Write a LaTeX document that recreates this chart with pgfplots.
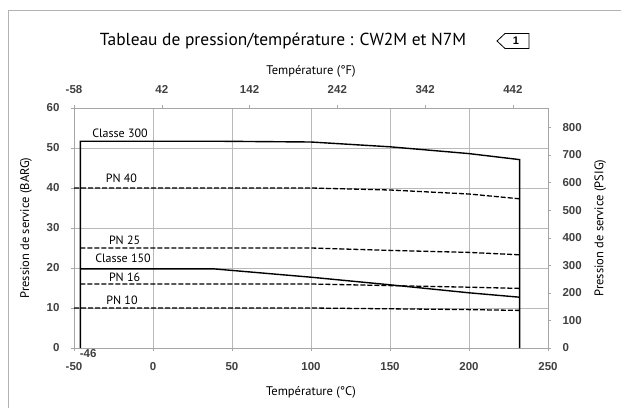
\documentclass[border=0pt]{standalone}
\usepackage{pgfplots}
\pgfplotsset{compat=1.18}
\usepackage{fontspec}
\setmainfont{PT Sans}
\newfontfamily\tickfont{Liberation Sans}
\begin{document}
\begin{tikzpicture}
\useasboundingbox (0pt,0pt) rectangle (621pt,408pt);
\draw[gray!60, line width=0.8pt] (8pt,0pt) -- (8pt,398pt) -- (621pt,398pt);
\node[font=\fontsize{17.4}{20}\selectfont] at (283pt,367pt) {Tableau de pression/température : CW2M et N7M};
\draw[line width=0.8pt] (497pt,367pt) -- (505pt,374.5pt) -- (529pt,374.5pt) -- (529pt,359.5pt) -- (505pt,359.5pt) -- cycle;
\node[font=\tickfont\bfseries\fontsize{11}{12}\selectfont] at (516pt,367pt) {1};
\begin{axis}[
  at={(74pt,60pt)}, anchor=south west, scale only axis, width=474pt, height=240pt,
  xmin=-50, xmax=250, ymin=0, ymax=60,
  xtick={-50,0,...,250}, ytick={0,10,...,60},
  grid=major, grid style={gray!55, line width=0.6pt},
  axis line style={gray!70, line width=0.8pt},
  tick align=outside, major tick length=3pt, tick style={gray!70},
  xtick pos=bottom, ytick pos=left,
  ticklabel style={font=\tickfont\bfseries\fontsize{11.5}{14}\selectfont, text=black!75},
  xticklabel style={yshift=-8pt},
  yticklabel style={xshift=-8pt},
  /pgf/number format/assume math mode=true,
  xlabel={Température (°C)}, ylabel={Pression de service (BARG)},
  label style={font=\fontsize{12.5}{15}\selectfont},
  xlabel style={yshift=-9pt}, ylabel style={yshift=8pt},
  clip=false,
]
\addplot[black, line width=1.4pt] coordinates {(-46,0) (-46,51.7) (38,51.7) (100,51.5) (150,50.3) (200,48.6) (232,47.1) (232,0)};
\addplot[black, line width=1.4pt] coordinates {(-46,19.8) (38,19.8) (100,17.7) (150,15.8) (200,13.8) (232,12.7)};
\addplot[black, line width=1.3pt, dash pattern=on 5pt off 2pt] coordinates {(-50,40) (100,40) (150,39.5) (200,38.5) (232,37.3)};
\addplot[black, line width=1.3pt, dash pattern=on 5pt off 2pt] coordinates {(-46,25) (100,25) (150,24.4) (200,23.9) (232,23.3)};
\addplot[black, line width=1.3pt, dash pattern=on 5pt off 2pt] coordinates {(-46,16) (100,16) (150,15.6) (200,15.2) (232,14.9)};
\addplot[black, line width=1.3pt, dash pattern=on 5pt off 2pt] coordinates {(-50,10) (100,10) (150,9.8) (200,9.6) (232,9.4)};
\begin{scope}[font=\fontsize{12}{14}\selectfont]
\node at (axis cs:-20.9,53.7) {Classe 300};
\node at (axis cs:-20,42.5) {PN 40};
\node at (axis cs:-18,27) {PN 25};
\node at (axis cs:-19,22.5) {Classe 150};
\node at (axis cs:-18,17.8) {PN 16};
\node at (axis cs:-19.6,12) {PN 10};
\end{scope}
\node[font=\tickfont\bfseries\fontsize{11.5}{14}\selectfont, text=black!75] at (axis cs:-41,-1.3) {-46};
\end{axis}
\begin{axis}[
  at={(74pt,60pt)}, anchor=south west, scale only axis, width=474pt, height=240pt,
  xmin=-58, xmax=482, ymin=0, ymax=870.2,
  axis x line*=top, axis y line*=right,
  xtick={-58,42,...,442}, ytick={0,100,...,800},
  axis line style={gray!70, line width=0.8pt},
  tick align=outside, major tick length=3pt, tick style={gray!70},
  ticklabel style={font=\tickfont\bfseries\fontsize{11.5}{14}\selectfont, text=black!75},
  xticklabel style={yshift=8pt},
  yticklabel style={xshift=8pt},
  /pgf/number format/assume math mode=true,
  xlabel={Température (°F)}, ylabel={Pression de service (PSIG)},
  label style={font=\fontsize{12.5}{15}\selectfont},
  xlabel style={yshift=1pt}, ylabel style={yshift=-6pt},
]
\end{axis}
\end{tikzpicture}
\end{document}
